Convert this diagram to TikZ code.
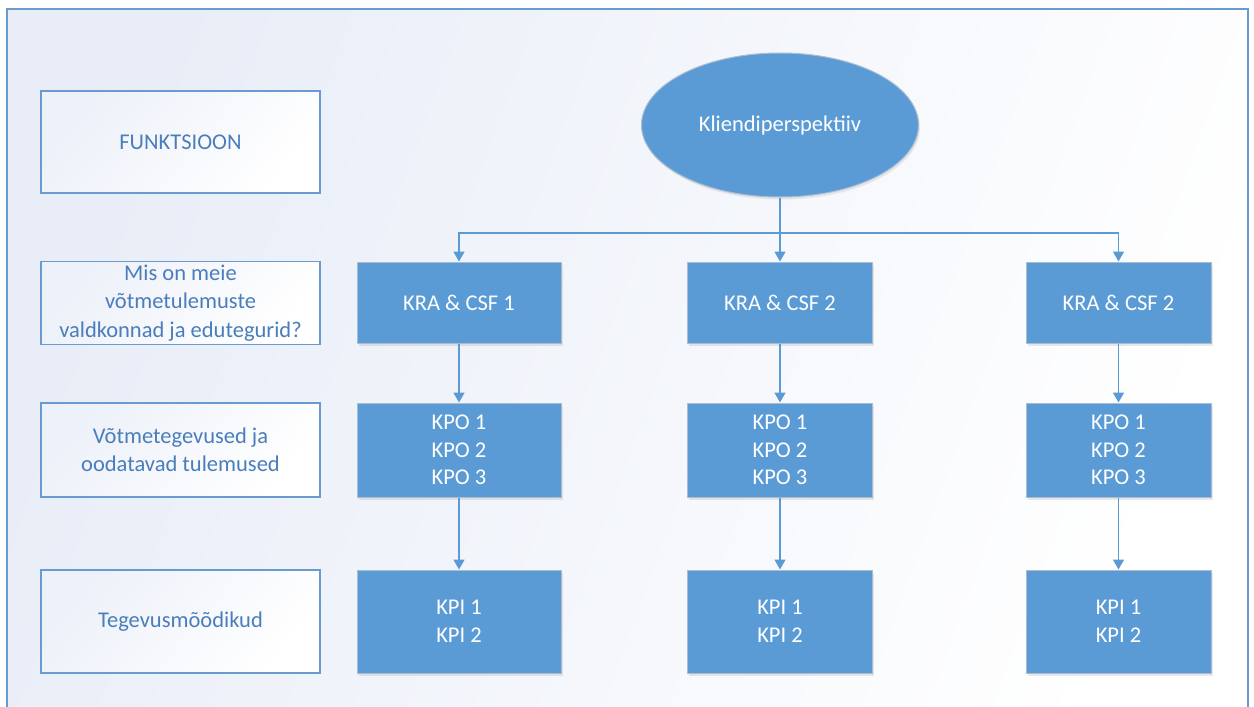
\documentclass[tikz,border=0pt]{standalone}
\usepackage{fontspec}
\setmainfont{Carlito}
\usetikzlibrary{arrows.meta,shapes.geometric,shadows}
\definecolor{boxblue}{HTML}{5B9BD5}
\definecolor{boxedge}{HTML}{A9BCD2}
\definecolor{frameblue}{HTML}{6A9BD0}
\definecolor{labeltext}{HTML}{4A7EBB}
\definecolor{paleblue}{HTML}{E8EDF7}
\tikzset{
  labelbox/.style={draw=frameblue, line width=1.2pt, shading=axis,
    top color=paleblue!80!white, bottom color=white, shading angle=50,
    minimum width=279pt, align=center, text=labeltext, font=\fontsize{22.5}{28.5}\selectfont},
  bluebox/.style={draw=boxedge, line width=1pt, fill=boxblue, text=white, align=center,
    font=\fontsize{22.5}{27.5}\selectfont,
    drop shadow={shadow xshift=1.5pt, shadow yshift=-2.5pt, opacity=0.15, fill=black!60}},
  conn/.style={draw=boxblue, line width=1.6pt},
  arr/.style={conn, -{Triangle[width=11pt,length=10pt]}},
}
\begin{document}
\begin{tikzpicture}[x=1pt, y=-1pt]
  \clip (0,0) rectangle (1254,707);
  % page background and the outer frame
  \fill[white] (0,0) rectangle (1254,707);
  \shade[shading=axis, top color=paleblue, bottom color=white, shading angle=70]
    (7,9) rectangle (1248,730);
  \draw[frameblue, line width=1.3pt] (7,730) -- (7,9) -- (1248,9) -- (1248,730);

  % row labels on the left
  \node[labelbox, minimum height=102pt] (func) at (180.5,142) {FUNKTSIOON};
  \node[labelbox, minimum height=81pt]  (qkra) at (180.5,303) {Mis on meie\\võtmetulemuste\\valdkonnad ja edutegurid?};
  \node[labelbox, minimum height=94pt]  (qkpo) at (180.5,450) {Võtmetegevused ja\\oodatavad tulemused};
  \node[labelbox, minimum height=103pt] (qkpi) at (180.5,621.5) {Tegevusmõõdikud};

  % perspective at the top
  \node[ellipse, draw=boxedge, line width=1pt, fill=boxblue, text=white,
        minimum width=277pt, minimum height=144pt, inner sep=0pt,
        font=\fontsize{22.5}{27.5}\selectfont,
        drop shadow={shadow xshift=1.5pt, shadow yshift=-2.5pt, opacity=0.13, fill=black!60}]
        (persp) at (780,125) {Kliendiperspektiiv};

  % column 1
  \node[bluebox, minimum width=204pt, minimum height=81pt]  (kra1) at (459,302.5) {KRA \& CSF 1};
  \node[bluebox, minimum width=204pt, minimum height=94pt]  (kpo1) at (459,450) {KPO 1\\KPO 2\\KPO 3};
  \node[bluebox, minimum width=204pt, minimum height=103pt] (kpi1) at (459,621.5) {KPI 1\\KPI 2};
  % column 2
  \node[bluebox, minimum width=185pt, minimum height=81pt]  (kra2) at (780,302.5) {KRA \& CSF 2};
  \node[bluebox, minimum width=185pt, minimum height=94pt]  (kpo2) at (780,450) {KPO 1\\KPO 2\\KPO 3};
  \node[bluebox, minimum width=185pt, minimum height=103pt] (kpi2) at (780,621.5) {KPI 1\\KPI 2};
  % column 3
  \node[bluebox, minimum width=185pt, minimum height=81pt]  (kra3) at (1118.5,302.5) {KRA \& CSF 2};
  \node[bluebox, minimum width=185pt, minimum height=94pt]  (kpo3) at (1118.5,450) {KPO 1\\KPO 2\\KPO 3};
  \node[bluebox, minimum width=185pt, minimum height=103pt] (kpi3) at (1118.5,621.5) {KPI 1\\KPI 2};

  % connectors
  \coordinate (bus) at (780,233);
  \draw[arr] (persp.south) -- (kra2.north);
  \draw[arr] (bus) -| (kra1.north);
  \draw[arr] (bus) -| (kra3.north);
  \foreach \c in {1,2,3} {
    \draw[arr] (kra\c.south) -- (kpo\c.north);
    \draw[arr] (kpo\c.south) -- (kpi\c.north);
  }
\end{tikzpicture}
\end{document}
